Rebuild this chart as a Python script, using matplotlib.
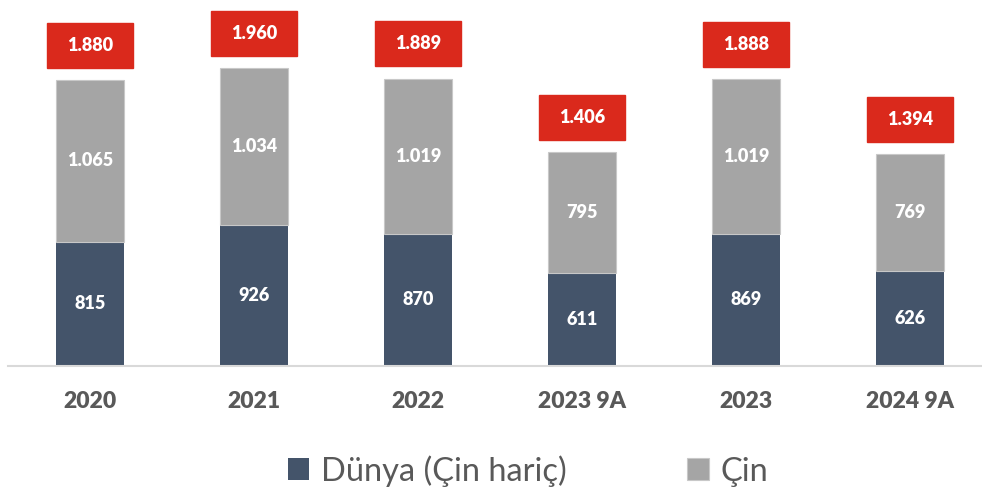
import matplotlib
matplotlib.use("agg")
import matplotlib.pyplot as plt
from matplotlib.patches import Rectangle

plt.rcParams["font.family"] = ["Lato", "DejaVu Sans"]

# values
categories = ["2020", "2021", "2022", "2023 9A", "2023", "2024 9A"]
world_ex_china = [815, 926, 870, 611, 869, 626]
china = [1065, 1034, 1019, 795, 1019, 769]
totals = ["1.880", "1.960", "1.889", "1.406", "1.888", "1.394"]
world_labels = ["815", "926", "870", "611", "869", "626"]
china_labels = ["1.065", "1.034", "1.019", "795", "1.019", "769"]

DARK = "#44546A"
GREY = "#A5A5A5"
RED = "#DA291C"
TEXT = "#595959"

fig = plt.figure(figsize=(9.82, 4.93), dpi=100)
ax = fig.add_axes([8 / 982, 127 / 493, 984 / 982, 366 / 493])

x = list(range(len(categories)))
width = 0.41
ax.bar(x, world_ex_china, width, color=DARK, label="Dünya (Çin hariç)", zorder=2)
ax.bar(x, china, width, bottom=world_ex_china, color=GREY, edgecolor="#C8C8C8",
       linewidth=0.8, label="Çin", zorder=2)

for i in x:
    w = world_ex_china[i]
    c = china[i]
    ax.text(i, w / 2, world_labels[i], ha="center", va="center", color="white",
            fontsize=13, fontweight="heavy", zorder=3)
    ax.text(i, w + c / 2, china_labels[i], ha="center", va="center", color="white",
            fontsize=13, fontweight="heavy", zorder=3)
    top = w + c
    # red total box above each bar
    box_bottom = top + 80
    box_h = 295
    ax.add_patch(Rectangle((i - 0.26, box_bottom), 0.52, box_h, color=RED, zorder=3))
    ax.text(i, box_bottom + box_h / 2, totals[i], ha="center", va="center",
            color="white", fontsize=13, fontweight="heavy", zorder=4)

ax.set_xlim(-0.5, 5.5)
ax.set_ylim(0, 2405)
ax.set_yticks([])
ax.set_xticks(x)
ax.set_xticklabels(categories, fontsize=16.5, fontweight="heavy", color=TEXT)
ax.tick_params(axis="x", length=0, pad=18)
for side in ["top", "right", "left"]:
    ax.spines[side].set_visible(False)
ax.spines["bottom"].set_color("#D9D9D9")
ax.spines["bottom"].set_linewidth(1.5)

leg = fig.legend(loc="center", bbox_to_anchor=(528 / 982, 22 / 493), ncol=2, frameon=False,
                 fontsize=23.5, handlelength=0.65, handleheight=0.65, handletextpad=0.35,
                 columnspacing=3.7, labelcolor=TEXT)

fig.savefig("out.png", dpi=100)
